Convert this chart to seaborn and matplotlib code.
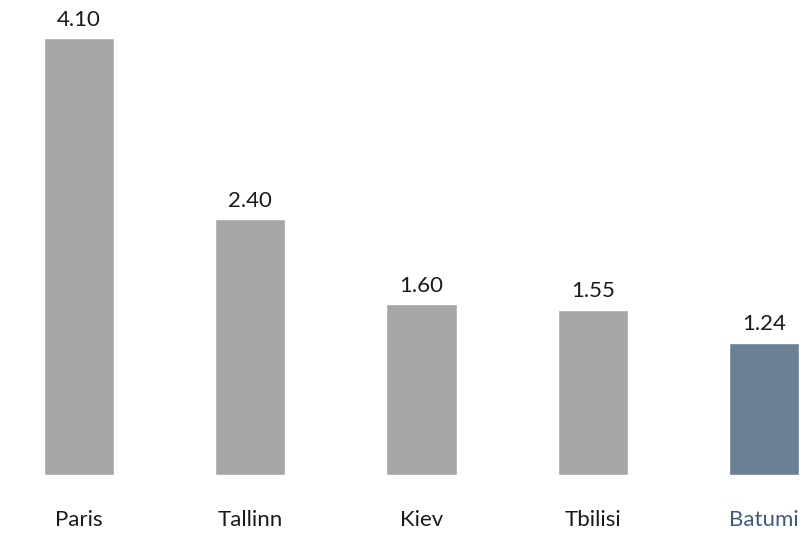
import matplotlib
matplotlib.use("Agg")
import matplotlib.pyplot as plt
import seaborn as sns
import pandas as pd

cities = ["Paris", "Tallinn", "Kiev", "Tbilisi", "Batumi"]
values = [4.10, 2.40, 1.60, 1.55, 1.24]
bar_colors = ["#A6A6A6", "#A6A6A6", "#A6A6A6", "#A6A6A6", "#6B7F95"]
label_colors = ["#1A1A1A", "#1A1A1A", "#1A1A1A", "#1A1A1A", "#3E5A83"]

sns.set_theme(style="white")
plt.rcParams['font.family'] = ['Lato', 'DejaVu Sans']

df = pd.DataFrame({"city": cities, "value": values})

fig = plt.figure(figsize=(8.05, 5.36), dpi=100)
ax = fig.add_axes([0, 61/536, 1, 1 - 61/536])
sns.barplot(data=df, x="city", y="value", hue="city", palette=bar_colors,
            width=0.41, legend=False, ax=ax, saturation=1)

ax.set_xlim(-0.461, 4.239)
ax.set_ylim(0, 4.456)
for s in ax.spines.values():
    s.set_visible(False)
ax.set_yticks([])
ax.set_xlabel("")
ax.set_ylabel("")
ax.tick_params(axis="x", length=0, pad=25, labelsize=16)
for t, c in zip(ax.get_xticklabels(), label_colors):
    t.set_color(c)

for i, v in enumerate(values):
    ax.annotate(f"{v:.2f}", (i, v), xytext=(0, 6), textcoords="offset points",
                ha="center", va="bottom", fontsize=16, color="#1A1A1A")

fig.savefig("out.png", dpi=100)
